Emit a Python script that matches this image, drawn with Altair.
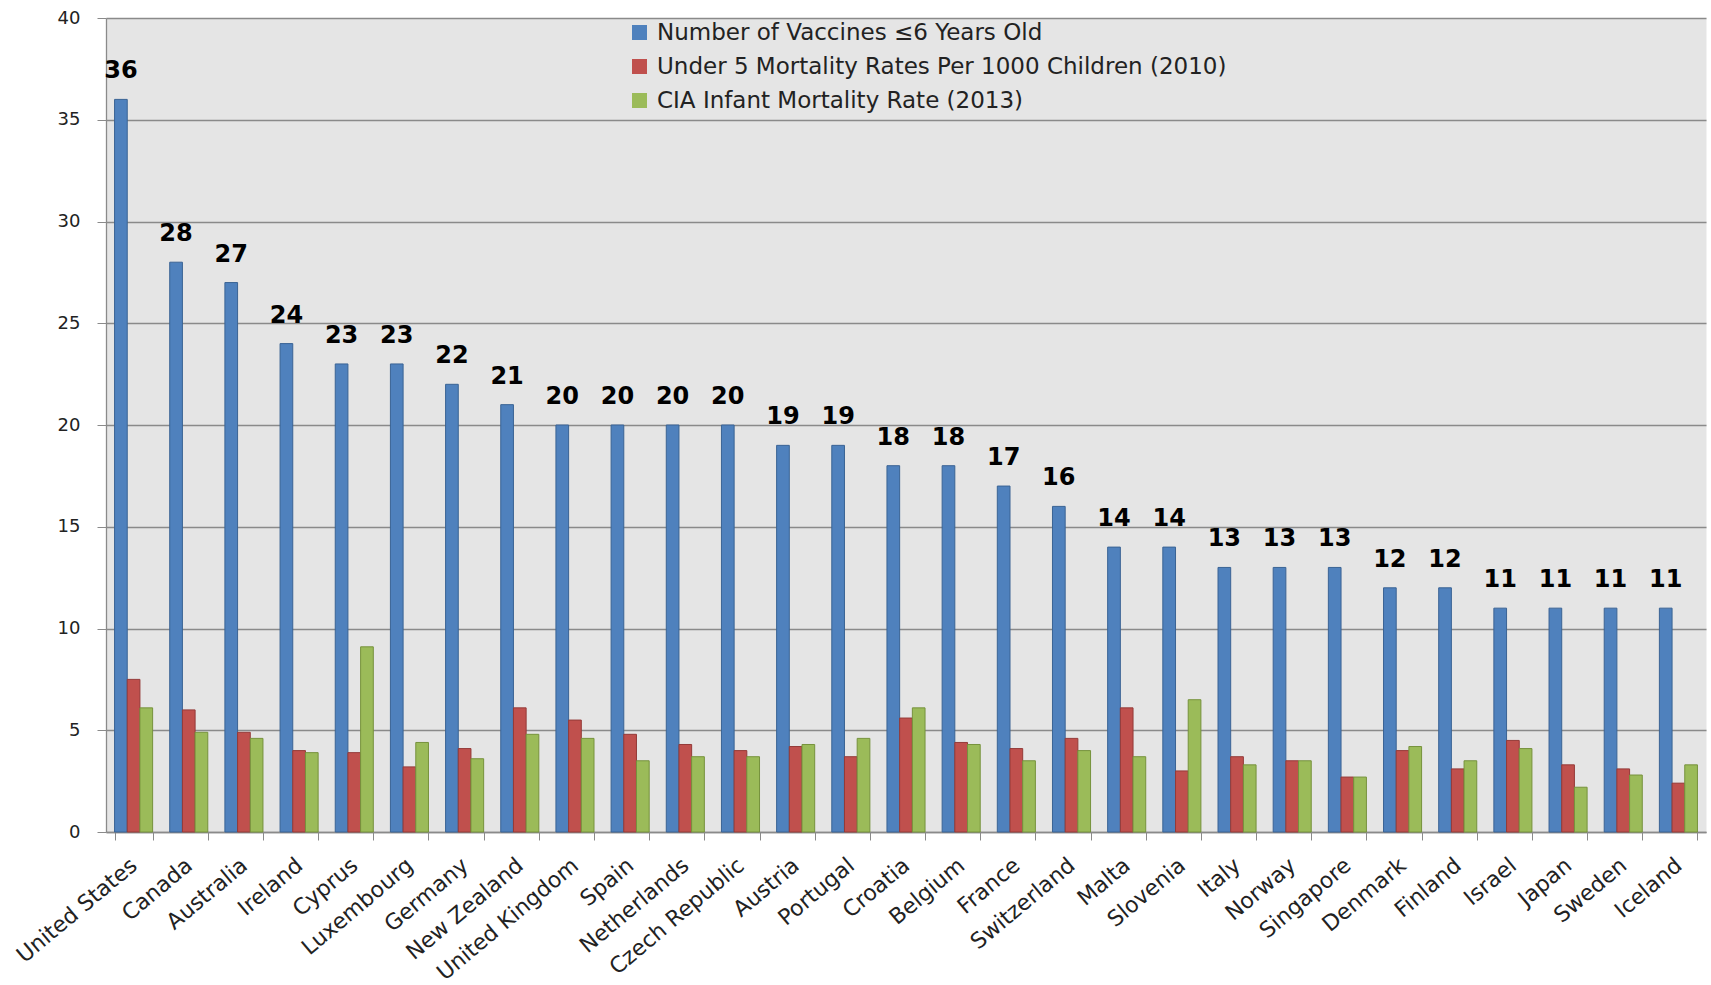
import altair as alt
import pandas as pd

countries = [
    "United States", "Canada", "Australia", "Ireland", "Cyprus", "Luxembourg",
    "Germany", "New Zealand", "United Kingdom", "Spain", "Netherlands",
    "Czech Republic", "Austria", "Portugal", "Croatia", "Belgium", "France",
    "Switzerland", "Malta", "Slovenia", "Italy", "Norway", "Singapore",
    "Denmark", "Finland", "Israel", "Japan", "Sweden", "Iceland",
]
vaccines = [36, 28, 27, 24, 23, 23, 22, 21, 20, 20, 20, 20, 19, 19, 18, 18, 17,
            16, 14, 14, 13, 13, 13, 12, 12, 11, 11, 11, 11]
under5_mortality = [7.5, 6.0, 4.9, 4.0, 3.9, 3.2, 4.1, 6.1, 5.5, 4.8, 4.3, 4.0,
                    4.2, 3.7, 5.6, 4.4, 4.1, 4.6, 6.1, 3.0, 3.7, 3.5, 2.7, 4.0,
                    3.1, 4.5, 3.3, 3.1, 2.4]
infant_mortality = [6.1, 4.9, 4.6, 3.9, 9.1, 4.4, 3.6, 4.8, 4.6, 3.5, 3.7, 3.7,
                    4.3, 4.6, 6.1, 4.3, 3.5, 4.0, 3.7, 6.5, 3.3, 3.5, 2.7, 4.2,
                    3.5, 4.1, 2.2, 2.8, 3.3]

series = [
    "Number of Vaccines \u22646 Years Old",
    "Under 5 Mortality Rates Per 1000 Children (2010)",
    "CIA Infant Mortality Rate (2013)",
]
fills = ["#4f81bd", "#c0504d", "#9bbb59"]
edges = ["#3a6394", "#943a38", "#76923c"]

rows = []
for i, country in enumerate(countries):
    for name, values in zip(series, [vaccines, under5_mortality, infant_mortality]):
        rows.append({"country": country, "series": name, "value": values[i]})
df = pd.DataFrame(rows)

x_enc = alt.X(
    "country:N",
    sort=countries,
    title=None,
    scale=alt.Scale(paddingInner=0.31, paddingOuter=0.155),
    axis=alt.Axis(
        labelAngle=-40,
        labelAlign="right",
        labelBaseline="middle",
        labelFont="DejaVu Sans",
        labelFontSize=22,
        labelColor="#222222",
        labelPadding=22,
        tickBand="extent",
        tickSize=8,
        grid=False,
        labelOverlap=False,
    ),
)
x_off = alt.XOffset("series:N", sort=series,
                    scale=alt.Scale(paddingInner=0, paddingOuter=0))
y_enc = alt.Y(
    "value:Q",
    title=None,
    scale=alt.Scale(domain=[0, 40], nice=False),
    axis=alt.Axis(
        values=list(range(0, 41, 5)),
        grid=True,
        labelFont="DejaVu Sans",
        labelFontSize=18,
        labelColor="#222222",
        labelPadding=17,
        tickSize=9,
    ),
)

bars = alt.Chart(df).mark_bar(strokeWidth=1).encode(
    x=x_enc,
    xOffset=x_off,
    y=y_enc,
    color=alt.Color(
        "series:N",
        sort=series,
        scale=alt.Scale(domain=series, range=fills),
        legend=alt.Legend(
            title=None,
            orient="none",
            legendX=522,
            legendY=3,
            symbolType="square",
            symbolSize=225,
            symbolStrokeWidth=0,
            labelFont="DejaVu Sans",
            labelFontSize=23,
            labelColor="#222222",
            labelLimit=900,
            labelOffset=6,
            rowPadding=10,
        ),
    ),
    stroke=alt.Stroke("series:N", scale=alt.Scale(domain=series, range=edges), legend=None),
)

labels = alt.Chart(df).transform_filter(
    alt.datum.series == series[0]
).mark_text(
    font="DejaVu Sans",
    fontSize=24,
    fontWeight="bold",
    color="#000000",
    baseline="alphabetic",
    dy=-21,
).encode(
    x=alt.X("country:N", sort=countries),
    xOffset=alt.XOffset("series:N", sort=series),
    y="value:Q",
    text="value:Q",
)

chart = alt.layer(bars, labels).properties(
    width=1600,
    height=814,
    padding={"left": 106, "top": 18, "right": 5, "bottom": 153},
    autosize=alt.AutoSizeParams(type="none"),
    background="#ffffff",
).configure_view(
    fill="#e5e5e5",
    strokeOpacity=0,
).configure_axis(
    domainColor="#8a8a8a",
    tickColor="#8a8a8a",
    gridColor="#8a8a8a",
    gridWidth=1.3,
    domainWidth=1.3,
)

chart.save("out.html", embed_options={"renderer": "svg", "actions": False})
